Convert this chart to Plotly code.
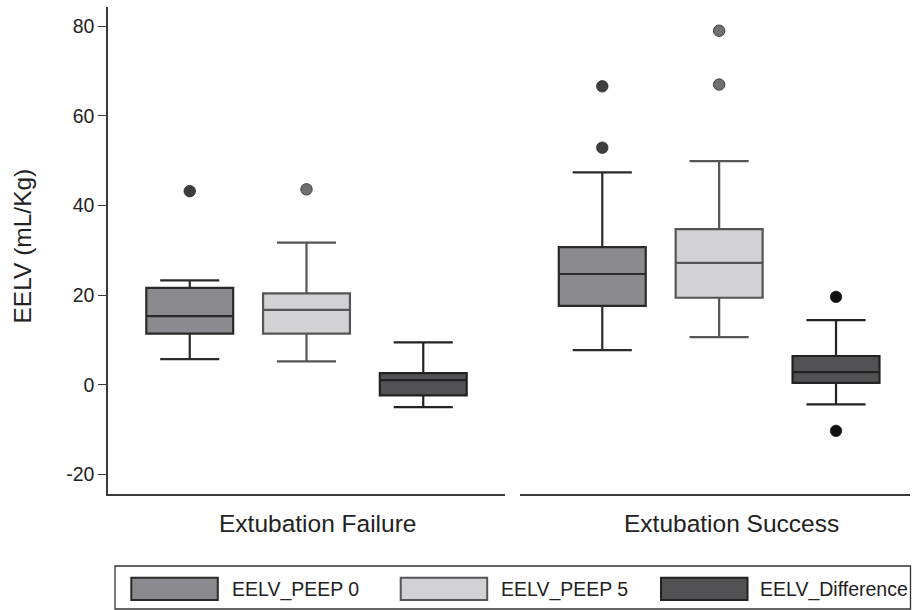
import plotly.graph_objects as go

# ---- data ----
groups = ["Extubation Failure", "Extubation Success"]
series = ["EELV_PEEP 0", "EELV_PEEP 5", "EELV_Difference"]
positions = [0, 1, 2]

# per series: [Failure, Success]
lowerfence = {"EELV_PEEP 0": [5.7, 7.7], "EELV_PEEP 5": [5.2, 10.6], "EELV_Difference": [-5.0, -4.4]}
q1 = {"EELV_PEEP 0": [11.4, 17.6], "EELV_PEEP 5": [11.4, 19.4], "EELV_Difference": [-2.4, 0.4]}
median = {"EELV_PEEP 0": [15.3, 24.7], "EELV_PEEP 5": [16.7, 27.2], "EELV_Difference": [1.0, 2.8]}
q3 = {"EELV_PEEP 0": [21.6, 30.7], "EELV_PEEP 5": [20.4, 34.7], "EELV_Difference": [2.6, 6.4]}
upperfence = {"EELV_PEEP 0": [23.3, 47.4], "EELV_PEEP 5": [31.7, 49.9], "EELV_Difference": [9.45, 14.4]}
outliers = {
    "EELV_PEEP 0": [[43.2], [66.6, 52.9]],
    "EELV_PEEP 5": [[43.6], [79.0, 67.0]],
    "EELV_Difference": [[], [19.6, -10.3]],
}

y_ticks = [-20, 0, 20, 40, 60, 80]

# ---- styles ----
fills = {"EELV_PEEP 0": "#8b8b8f", "EELV_PEEP 5": "#d2d2d4", "EELV_Difference": "#525255"}
lines = {"EELV_PEEP 0": "#2a2a2a", "EELV_PEEP 5": "#555557", "EELV_Difference": "#222222"}
out_col = {"EELV_PEEP 0": "#3e3e41", "EELV_PEEP 5": "#707072", "EELV_Difference": "#111111"}
FONT = "Liberation Sans, Arial, sans-serif"

W, H = 912, 610
L, R, T, B = 108, 910, 7, 494  # plot area in pixels


def px(xp):
    return (xp - L) / (R - L)


def py(yp):
    return (B - yp) / (B - T)


fig = go.Figure()
for gi, g in enumerate(groups):
    xa = "x" if gi == 0 else "x2"
    ya = "y" if gi == 0 else "y2"
    for si, s in enumerate(series):
        fig.add_trace(go.Box(
            x=[positions[si]], q1=[q1[s][gi]], median=[median[s][gi]], q3=[q3[s][gi]],
            lowerfence=[lowerfence[s][gi]], upperfence=[upperfence[s][gi]],
            width=0.744, whiskerwidth=0.68, boxpoints=False,
            fillcolor=fills[s], line=dict(color=lines[s], width=2.2),
            name=s, showlegend=False, xaxis=xa, yaxis=ya, hoverinfo="skip",
        ))
        if outliers[s][gi]:
            fig.add_trace(go.Scatter(
                x=[positions[si]] * len(outliers[s][gi]), y=outliers[s][gi],
                mode="markers", marker=dict(size=11.5, color=out_col[s],
                                            line=dict(color="#2a2a2a", width=0.8)),
                showlegend=False, xaxis=xa, yaxis=ya, hoverinfo="skip",
            ))

yr = [-24.4, 84.3]
axis_line = dict(showline=True, linecolor="#3a3a3a", linewidth=1.5, showgrid=False, zeroline=False)
fig.update_layout(
    width=W, height=H,
    margin=dict(l=L, r=W - R, t=T, b=H - B),
    paper_bgcolor="white", plot_bgcolor="white",
    showlegend=False,
    font=dict(family=FONT, color="#222222"),
    xaxis=dict(domain=[0, px(505)], range=[-0.70, 2.70], showticklabels=False, ticks="", **axis_line),
    xaxis2=dict(domain=[px(520), 1], range=[-0.704, 2.633], showticklabels=False, ticks="",
                anchor="y2", **axis_line),
    yaxis=dict(range=yr, tickvals=y_ticks, ticktext=[str(v) for v in y_ticks],
               ticks="outside", ticklen=8, tickcolor="#3a3a3a", tickwidth=1.3,
               tickfont=dict(size=19.5, color="#222222", family=FONT), **axis_line),
    yaxis2=dict(range=yr, anchor="x2", matches="y", visible=False, showgrid=False, zeroline=False),
)

# y-axis title
fig.add_annotation(text="EELV (mL/Kg)", x=px(22), y=py(246.5), xref="paper", yref="paper",
                   textangle=-90, showarrow=False, xanchor="center", yanchor="middle",
                   font=dict(size=24.5, color="#222222", family=FONT))

# group labels
for gx, g in zip([317.5, 731.3], groups):
    fig.add_annotation(text=g, x=px(gx), y=py(523), xref="paper", yref="paper",
                       showarrow=False, xanchor="center", yanchor="middle",
                       font=dict(size=24.5, color="#222222", family=FONT))

# legend (box, swatches, labels)
fig.add_shape(type="rect", xref="paper", yref="paper", x0=px(115), x1=px(910.5), y0=py(566), y1=py(609),
              line=dict(color="#333333", width=1.3), fillcolor="rgba(0,0,0,0)")
sw_x = [131.3, 400.7, 661.0]
tx_x = [230.0, 499.0, 758.0]
for s, sx, tx in zip(series, sw_x, tx_x):
    fig.add_shape(type="rect", xref="paper", yref="paper", x0=px(sx), x1=px(sx + 86.5),
                  y0=py(577.7), y1=py(600), fillcolor=fills[s], line=dict(color=lines[s], width=2))
    fig.add_annotation(text=s, x=px(tx), y=py(589.5), xref="paper", yref="paper",
                       showarrow=False, xanchor="left", yanchor="middle",
                       font=dict(size=19.5, color="#222222", family=FONT))

fig.write_html("out.html")
